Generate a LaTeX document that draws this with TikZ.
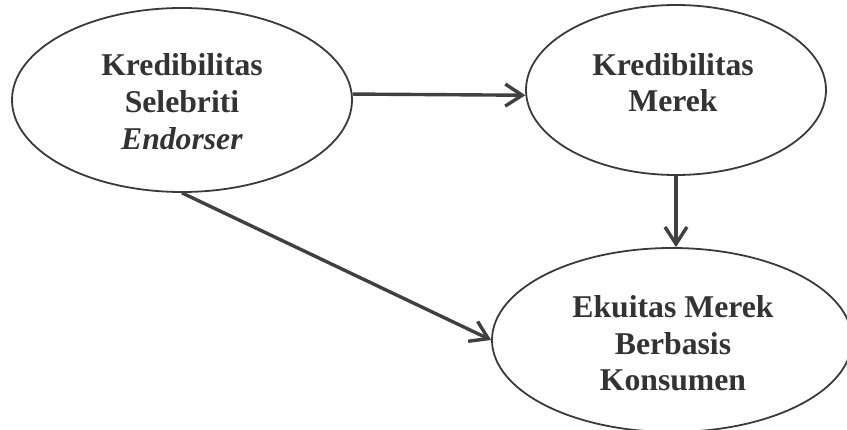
\documentclass[tikz,border=0pt]{standalone}
\usepackage{fontspec}
\setmainfont{Liberation Serif}
\usetikzlibrary{shapes.geometric,arrows.meta}
\definecolor{edgegray}{HTML}{3A3A3A}
\definecolor{arrgray}{HTML}{404040}
\definecolor{txt}{HTML}{333333}
\begin{document}
\begin{tikzpicture}[x=1pt,y=-1pt,
  oval/.style={ellipse,draw=edgegray,line width=1.8pt,inner sep=0pt},
  lbl/.style={anchor=base,inner sep=0pt,text=txt,
    font=\fontsize{31.7}{37}\selectfont\bfseries},
  arr/.style={draw=arrgray,line width=3.4pt,
    -{Straight Barb[length=17pt,width=22pt,line width=3.4pt]}}]
\useasboundingbox (0,0) rectangle (847,430);
\clip (0,0) rectangle (847,430);
\node[oval,minimum width=340pt,minimum height=184pt] (e1) at (182,100) {};
\node[oval,minimum width=300pt,minimum height=170pt] (e2) at (676,90) {};
\node[oval,minimum width=360pt,minimum height=184pt] (e3) at (672,340) {};
\node[lbl] (t1a) at (182,76) {Kredibilitas};
\node[lbl] (t1b) at (182,113) {Selebriti};
\node[lbl] (t1c) at (182,150) {\textit{Endorser}};
\node[lbl] (t2a) at (673,76) {Kredibilitas};
\node[lbl] (t2b) at (673,112) {Merek};
\node[lbl] (t3a) at (673,318) {Ekuitas Merek};
\node[lbl] (t3b) at (673,355) {Berbasis};
\node[lbl] (t3c) at (673,391) {Konsumen};
\draw[arr] (e1.2) -- (e2.182);
\draw[arr] (e2.south) -- (e2.south |- e3.north);
\draw[arr] (e1.south) -- (e3.west);
\end{tikzpicture}
\end{document}
